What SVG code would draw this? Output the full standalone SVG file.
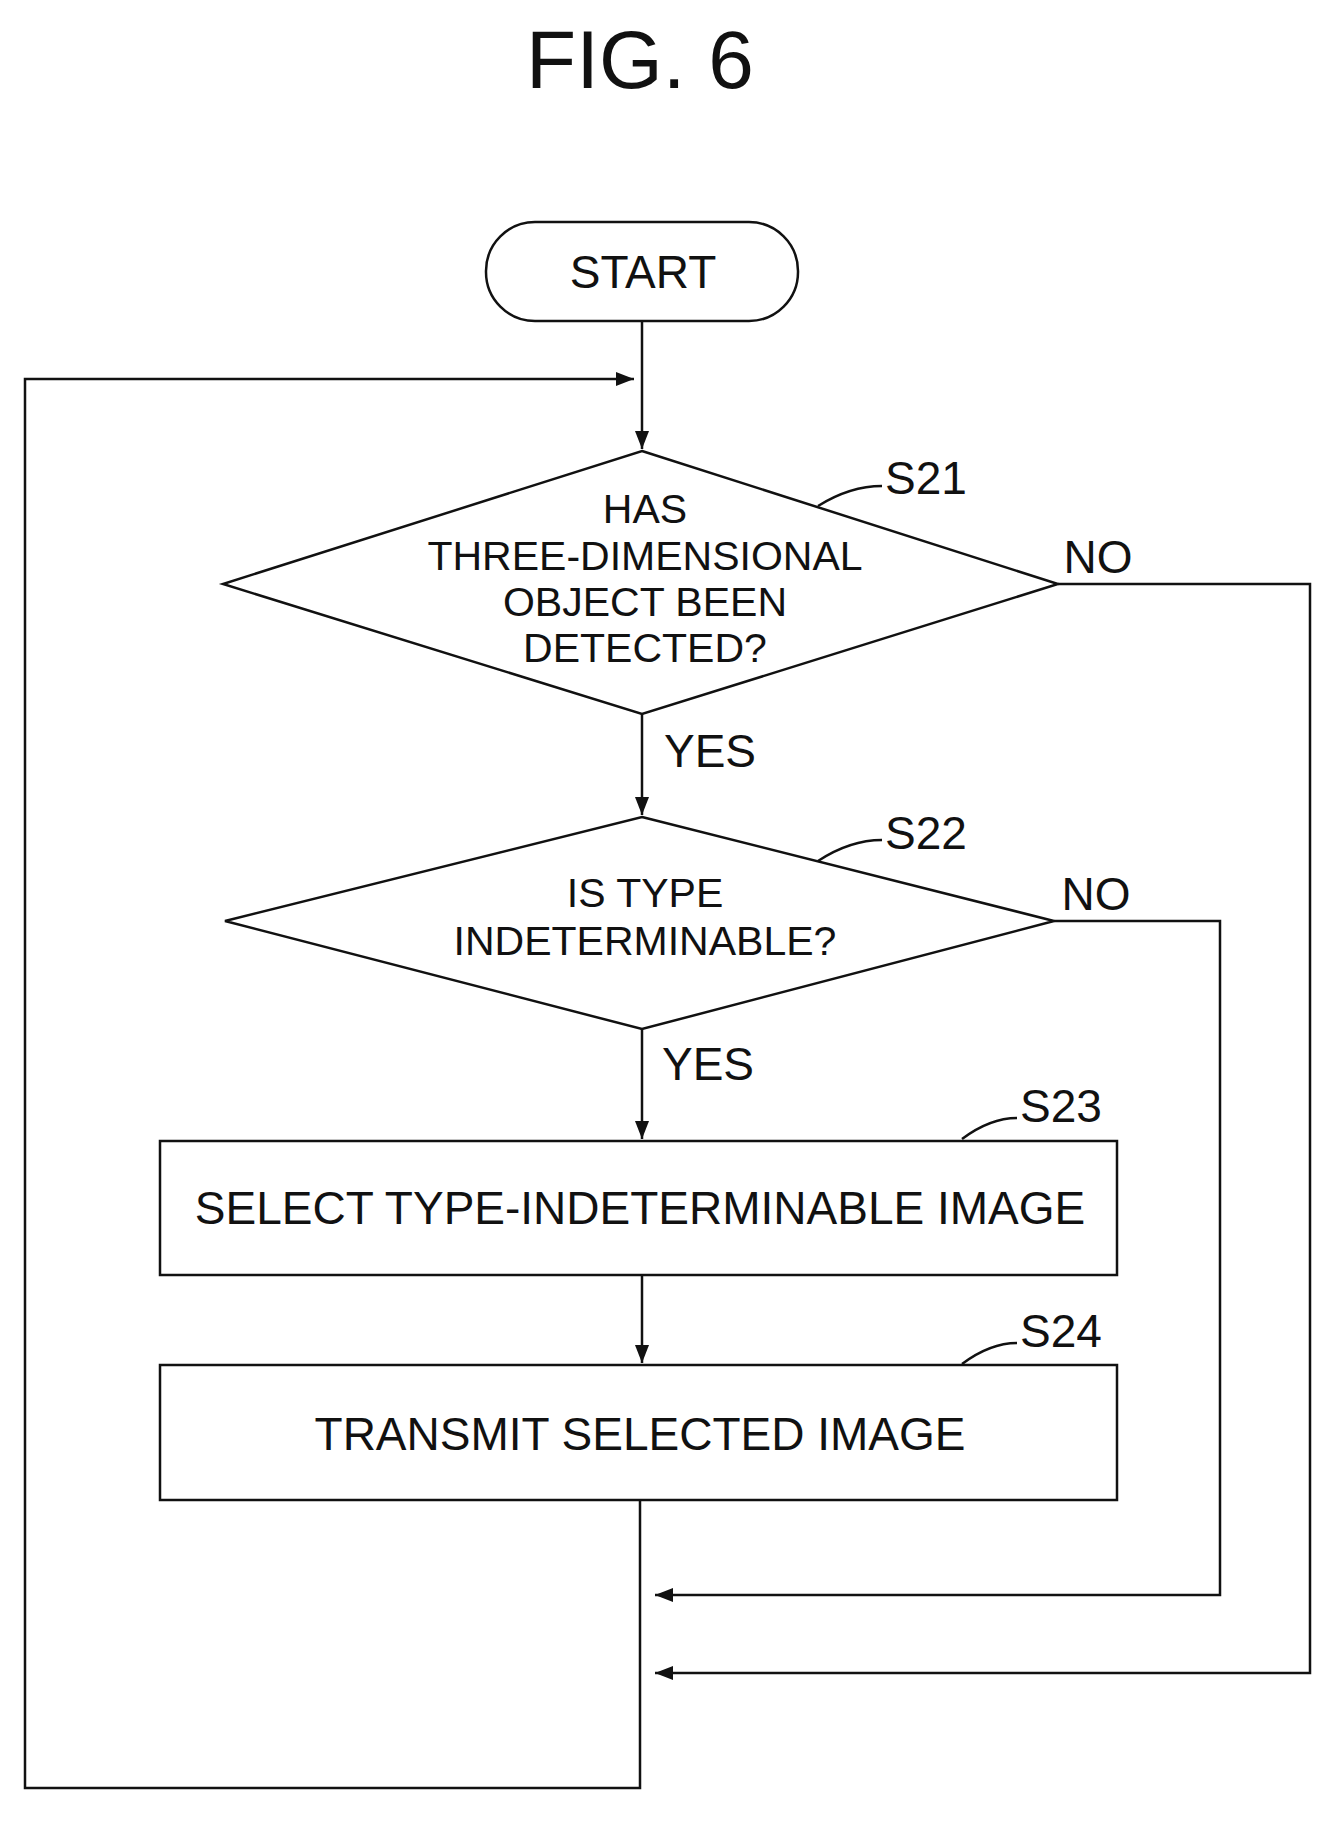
<svg xmlns="http://www.w3.org/2000/svg" width="1341" height="1826" viewBox="0 0 1341 1826">
<style>
text{font-family:"Liberation Sans",Arial,sans-serif;fill:#111;text-anchor:middle}
.n{font-size:46px}
.d{font-size:41px}
.lb{font-size:46px;text-anchor:start}
.s{fill:#fff;stroke:#111;stroke-width:2.5}
.c{fill:none;stroke:#111;stroke-width:2.5}
</style>
<defs><marker id="b" markerWidth="18" markerHeight="14" refX="18" refY="7" orient="auto" markerUnits="userSpaceOnUse"><path d="M0,0 L18,7 L0,14 z" fill="#111"/></marker></defs>
<text x="640" y="88" style="font-size:82px">FIG. 6</text>
<g id="connectors">
<path class="c" d="M642,321 V449" marker-end="url(#b)"/>
<path class="c" d="M642,714 V815" marker-end="url(#b)"/>
<path class="c" d="M642,1029 V1139" marker-end="url(#b)"/>
<path class="c" d="M642,1275 V1363" marker-end="url(#b)"/>
<path class="c" d="M1058,584 H1310 V1673 H655" marker-end="url(#b)"/>
<path class="c" d="M1054,921 H1220 V1595 H655" marker-end="url(#b)"/>
<path class="c" d="M640,1500 V1788 H25 V379 H634" marker-end="url(#b)"/>
<path class="c" d="M818,506 Q850,486 882,486"/>
<path class="c" d="M818,861 Q850,840 882,840"/>
<path class="c" d="M962,1139 Q990,1118 1017,1118"/>
<path class="c" d="M962,1364 Q990,1343 1017,1343"/>
<text class="lb" x="885" y="494">S21</text>
<text class="lb" x="885" y="849">S22</text>
<text class="lb" x="1020" y="1122">S23</text>
<text class="lb" x="1020" y="1347">S24</text>
<text class="n" x="1098" y="573">NO</text>
<text class="n" x="1096" y="910">NO</text>
<text class="n" x="710" y="767">YES</text>
<text class="n" x="708" y="1080">YES</text>
</g>
<g id="start"><rect class="s" x="486" y="222" width="312" height="99" rx="49"/><text class="n" x="643" y="288">START</text></g>
<g id="S21"><polygon class="s" points="642,451 1058,584 642,714 223,584"/>
<text class="d" x="645" y="523">HAS</text><text class="d" x="645" y="570">THREE-DIMENSIONAL</text><text class="d" x="645" y="616">OBJECT BEEN</text><text class="d" x="645" y="662">DETECTED?</text></g>
<g id="S22"><polygon class="s" points="642,817 1054,921 642,1029 225,921"/>
<text class="d" x="645" y="907">IS TYPE</text><text class="d" x="645" y="955">INDETERMINABLE?</text></g>
<g id="S23"><rect class="s" x="160" y="1141" width="957" height="134"/><text class="n" x="640" y="1224">SELECT TYPE-INDETERMINABLE IMAGE</text></g>
<g id="S24"><rect class="s" x="160" y="1365" width="957" height="135"/><text class="n" x="640" y="1450">TRANSMIT SELECTED IMAGE</text></g>
</svg>
